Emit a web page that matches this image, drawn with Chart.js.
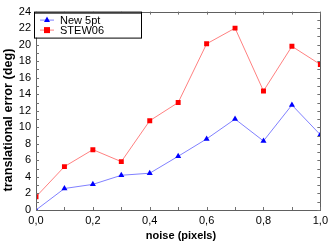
<!DOCTYPE html>
<html><head><meta charset="utf-8">
<script src="https://cdn.jsdelivr.net/npm/chart.js@4/dist/chart.umd.min.js"></script>
<style>html,body{margin:0;padding:0;background:#fff}#wrap{width:332px;height:248px}</style>
</head><body><div id="wrap"><canvas id="c" width="332" height="248"></canvas></div>
<script>
const noise = [0.0,0.1,0.2,0.3,0.4,0.5,0.6,0.7,0.8,0.9,1.0];
const new5pt = [0.0,2.6,3.1,4.2,4.45,6.5,8.6,11.0,8.35,12.7,9.1];
const stew06 = [1.6,5.25,7.3,5.85,10.8,13.0,20.1,22.0,14.4,19.8,17.6];
const seriesNames = ["New 5pt","STEW06"];
const xTickLabels = ["0,0","0,2","0,4","0,6","0,8","1,0"];
const xTitle = "noise (pixels)";
const yTitle = "translational error (deg)";

const FONT = "'Liberation Sans', Arial, sans-serif";

const decor = {
  id:'decor',
  afterDraw(chart){
    const ctx = chart.ctx, a = chart.chartArea, xs = chart.scales.x, ys = chart.scales.y;
    ctx.save();
    ctx.strokeStyle = '#606060'; ctx.lineWidth = 1;
    ctx.strokeRect(Math.round(a.left)+0.5, Math.round(a.top)+0.5, Math.round(a.right-a.left), Math.round(a.bottom-a.top));
    ctx.strokeStyle = '#707070';
    ctx.beginPath();
    for (let i=0;i<=10;i++){
      const x = Math.round(xs.getPixelForValue(i/10))+0.5;
      ctx.moveTo(x,a.top); ctx.lineTo(x,a.top+3);
      ctx.moveTo(x,a.bottom); ctx.lineTo(x,a.bottom-3);
    }
    for (let v=0; v<=24; v++){
      const y = Math.round(ys.getPixelForValue(v))+0.5;
      ctx.moveTo(a.left,y); ctx.lineTo(a.left+3,y);
      ctx.moveTo(a.right,y); ctx.lineTo(a.right-3,y);
    }
    ctx.stroke();
    // axis titles
    ctx.fillStyle = '#000';
    ctx.font = 'bold 11px '+FONT; ctx.textAlign='center'; ctx.textBaseline='middle';
    ctx.fillText(xTitle, 181, 236);
    ctx.save();
    ctx.translate(8, 120); ctx.rotate(-Math.PI/2);
    ctx.font = 'bold 12px '+FONT;
    const w = ctx.measureText(yTitle).width;
    const sz = Math.max(9, Math.min(13, 12*143/w));
    ctx.font = 'bold '+sz.toFixed(1)+'px '+FONT;
    ctx.fillText(yTitle, 0, 0);
    ctx.restore();
    // legend
    const lx = a.left-2, ly = a.top, lw = 107, lh = 26;
    ctx.fillStyle = '#fff'; ctx.fillRect(lx,ly,lw,lh);
    ctx.strokeStyle = '#000'; ctx.lineWidth = 1;
    ctx.strokeRect(lx+0.5,ly+0.5,lw,lh);
    ctx.beginPath(); ctx.moveTo(lx,ly+1.5); ctx.lineTo(lx+lw+1,ly+1.5); ctx.stroke();
    chart.data.datasets.forEach((ds,i)=>{
      const yy = ly + 8 + i*10;
      ctx.strokeStyle = ds.borderColor; ctx.lineWidth = 1;
      ctx.beginPath(); ctx.moveTo(lx+6,yy+0.5); ctx.lineTo(lx+20,yy+0.5); ctx.stroke();
      ctx.fillStyle = ds.pointBackgroundColor;
      const cx = lx+13;
      if (ds.pointStyle==='triangle'){
        ctx.beginPath(); ctx.moveTo(cx,yy-3); ctx.lineTo(cx+3,yy+2.5); ctx.lineTo(cx-3,yy+2.5); ctx.closePath(); ctx.fill();
      } else { ctx.fillRect(cx-3,yy-2.5,6,6); }
      ctx.fillStyle = '#000'; ctx.font = '11px '+FONT; ctx.textBaseline='middle'; ctx.textAlign='left';
      ctx.fillText(ds.label, lx+26, yy+1);
    });
    ctx.restore();
  }
};

new Chart(document.getElementById('c'), {
  type:'line',
  data:{
    datasets:[
      {label:seriesNames[0], data:noise.map((x,i)=>({x, y:new5pt[i]})), borderColor:'#8080ff', borderWidth:1,
       pointStyle:'triangle', pointRadius:3.5, pointBackgroundColor:'#0000ff', pointBorderColor:'#0000ff', pointBorderWidth:0, tension:0},
      {label:seriesNames[1], data:noise.map((x,i)=>({x, y:stew06[i]})), borderColor:'#ff8080', borderWidth:1,
       pointStyle:'rect', pointRadius:3.5, pointBackgroundColor:'#ff0000', pointBorderColor:'#ff0000', pointBorderWidth:0, tension:0}
    ]
  },
  options:{
    responsive:false, animation:false, devicePixelRatio:1,
    layout:{padding:{top:11,right:11,left:0,bottom:0}},
    plugins:{legend:{display:false}, tooltip:{enabled:false}},
    scales:{
      x:{type:'linear', min:0, max:1,
         grid:{display:false, drawTicks:false}, border:{display:false},
         afterBuildTicks(s){ s.ticks = [0,0.2,0.4,0.6,0.8,1.0].map(v=>({value:v})); },
         ticks:{padding:4, color:'#000', font:{family:FONT,size:11}, maxRotation:0,
           callback:(v,i)=>xTickLabels[i]},
         afterFit(s){ s.height = 38; }
      },
      y:{min:0, max:24,
         grid:{display:false, drawTicks:false}, border:{display:false},
         ticks:{stepSize:2, padding:5, color:'#000', font:{family:FONT,size:11}},
         afterFit(s){ s.width = 36; }
      }
    }
  },
  plugins:[decor]
});
</script></body></html>
